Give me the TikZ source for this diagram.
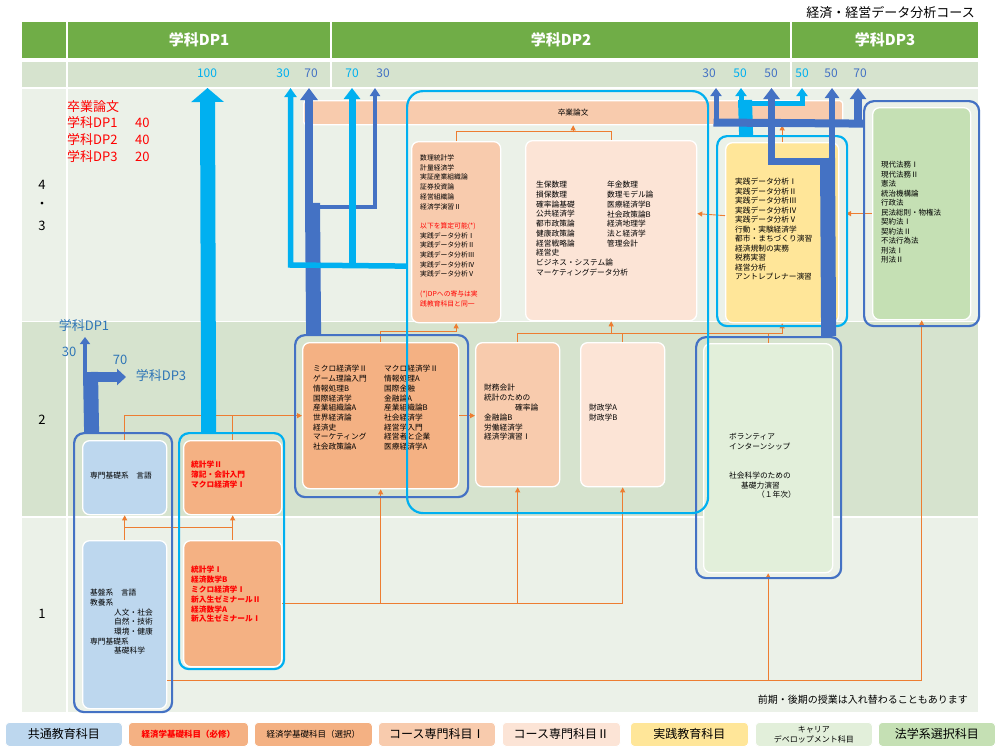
\documentclass[tikz,border=0pt]{standalone}
\usepackage{fontspec}
\setmainfont{Noto Sans CJK JP}
\usetikzlibrary{arrows.meta}
\definecolor{hdrgreen}{HTML}{70AD47}
\definecolor{bandg}{HTML}{D6E3CE}
\definecolor{lightbg}{HTML}{EBF1E8}
\definecolor{blueD}{HTML}{4472C4}
\definecolor{cyanC}{HTML}{00B0F0}
\definecolor{orangeL}{HTML}{ED7D31}
\definecolor{kyotsu}{HTML}{BDD7EE}
\definecolor{kiso}{HTML}{F4B183}
\definecolor{senA}{HTML}{F8CBAD}
\definecolor{senB}{HTML}{FCE4D6}
\definecolor{jissen}{HTML}{FFE699}
\definecolor{career}{HTML}{E2EFDA}
\definecolor{lawc}{HTML}{C5E0B4}
\definecolor{redT}{HTML}{FF0000}
\definecolor{lblue}{HTML}{2E75B6}
\newcommand\mkbox[6]{\node[#1,minimum width={#4-#2},minimum height={#5-#3}] (#6) at (#2,#3) {};}
\begin{document}
\begin{tikzpicture}[x=1pt,y=-1pt,
  inbox/.style={draw=white,line width=1.3pt,rounded corners=7pt,inner sep=0pt,anchor=north west},
  grpD/.style={draw=blueD,line width=2.2pt,rounded corners=10pt,inner sep=0pt,anchor=north west},
  grpC/.style={draw=cyanC,line width=2.2pt,rounded corners=10pt,inner sep=0pt,anchor=north west},
  ctext/.style={font=\fontsize{7.7}{9.7}\selectfont,align=left,anchor=north west,inner sep=0pt},
  stext/.style={font=\fontsize{7.7}{9.7}\selectfont,anchor=west,inner sep=0pt},
  oline/.style={draw=orangeL,line width=0.9pt},
  oarr/.style={oline,-{Triangle[width=5pt,length=5pt]}},
  dpnum/.style={font=\fontsize{12}{13}\selectfont,inner sep=0pt},
  hdr/.style={font=\fontsize{15}{16}\selectfont\bfseries,text=white,inner sep=0pt},
  legbox/.style={draw=white,line width=0.8pt,rounded corners=4pt,inner sep=0pt,anchor=north west},
  legt/.style={font=\fontsize{12}{13}\selectfont,inner sep=0pt,align=center},
  legs/.style={font=\fontsize{8.5}{10}\selectfont,inner sep=0pt,align=center},
  redt/.style={font=\fontsize{13}{14}\selectfont,text=redT,anchor=west,inner sep=0pt},
  rowl/.style={font=\fontsize{13}{14}\selectfont,inner sep=0pt},
  lbl/.style={font=\fontsize{13}{14}\selectfont,text=lblue,inner sep=0pt},
]
\useasboundingbox (0,0) rectangle (1000,750);
\fill[white] (0,0) rectangle (1000,750);
% backgrounds
\fill[hdrgreen] (22,22) rectangle (978,58);
\fill[bandg] (22,62) rectangle (978,88);
\fill[lightbg] (22,88) rectangle (978,712);
\fill[bandg] (22,322) rectangle (978,517);
\draw[white,line width=1.2pt] (22,88)--(978,88) (22,321.5)--(978,321.5) (22,517)--(978,517);
\draw[white,line width=1.5pt] (67,22)--(67,712) (331,22)--(331,88) (791,22)--(791,88);
% title and header
\node[font=\fontsize{13}{14}\selectfont,anchor=east,inner sep=0pt] (title) at (975,13) {経済・経営データ分析コース};
\node[hdr] (h1) at (199,40) {学科DP1};
\node[hdr] (h2) at (561,40) {学科DP2};
\node[hdr] (h3) at (885,40) {学科DP3};
% row labels
\node[rowl] (r4) at (42,185) {4};
\node[rowl] (rd) at (42,205) {・};
\node[rowl] (r3) at (42,226) {3};
\node[rowl] (r2) at (42,420) {2};
\node[rowl] (r1) at (42,614) {1};
% red thesis text
\node[redt] (s0) at (67,107) {卒業論文};
\node[redt] (s1) at (67,123) {学科DP1};
\node[redt] (s2) at (67,140) {学科DP2};
\node[redt] (s3) at (67,157) {学科DP3};
\node[redt] (n1) at (135,123) {40};
\node[redt] (n2) at (135,140) {40};
\node[redt] (n3) at (135,157) {20};
% boxes
\mkbox{inbox,fill=senA,rounded corners=3pt}{303}{100}{842}{124}{sotsu}
\mkbox{inbox,fill=kyotsu}{82}{440}{166}{514}{k1a}
\mkbox{inbox,fill=kyotsu}{82}{540}{166}{708}{k1b}
\mkbox{inbox,fill=kiso}{183}{440}{281}{514}{k2a}
\mkbox{inbox,fill=kiso}{183}{540}{281}{666}{k2b}
\mkbox{inbox,fill=kiso}{302}{342}{458}{488}{c1}
\mkbox{inbox,fill=senA}{475}{342}{559}{486}{zai}
\mkbox{inbox,fill=senB}{580}{342}{664}{486}{zs}
\mkbox{inbox,fill=senA}{411}{141}{500}{322}{suri}
\mkbox{inbox,fill=senB}{525}{140}{696}{320}{seiho}
\mkbox{inbox,fill=jissen}{725}{142}{838}{322}{jis}
\mkbox{inbox,fill=lawc}{872}{107}{970}{319}{law}
\mkbox{inbox,fill=career}{703}{343}{832}{572}{car}
% orange connectors
\draw[oarr] (k1b.north) -- (k1a.south);
\draw[oarr] (k2b.north) -- (k2a.south);
\draw[oline] ([yshift=13pt]k1b.north) -- ([yshift=13pt]k2b.north);
\draw[oarr] (k1a.north) |- (c1.west);
\draw[oline] (k2a.north) -- (k2a.north |- c1.west);
\draw[oarr] (c1.east) -- (c1.east -| zai.west);
\draw[oline] (k2b.east) -- (k2b.east -| zs.south);
\draw[oarr] (c1.south |- k2b.east) -- (c1.south);
\draw[oarr] (zai.south |- k2b.east) -- (zai.south);
\draw[oarr] (zs.south |- k2b.east) -- (zs.south);
\draw[oline] ([yshift=-56pt]k1b.east) -- ([yshift=-56pt]k1b.east -| law.south);
\draw[oarr] ([yshift=-56pt]k1b.east -| car.south) -- (car.south);
\draw[oarr] ([yshift=-56pt]k1b.east -| law.south) -- (law.south);
\draw[oarr] (c1.north) -- ([yshift=11pt]c1.north) -| (suri.south);
\draw[oarr] (zai.north) -- ([yshift=9pt]zai.north) -| (jis.south);
\draw[oline] (zs.north) -- ([yshift=9pt]zs.north);
\draw[oarr] ([yshift=-13pt]seiho.south) -- (seiho.south);
\draw[oline] (car.north) -- ([yshift=10pt]car.north);
\draw[oline] (suri.north) -- ([yshift=10pt]suri.north) -| (seiho.north);
\draw[oarr] ([yshift=-7pt]sotsu.south) -- (sotsu.south);
\draw[oarr] (jis.north) -- (jis.north |- sotsu.south);
\draw[oarr] (law.west) -- ([xshift=-26pt]law.west);
\draw[oarr] ([yshift=17pt]jis.west) -- ([yshift=17pt]seiho.east);
% group outlines
\mkbox{grpD}{73}{432}{171}{711}{g1}
\mkbox{grpC}{178}{432}{283}{668}{g2}
\mkbox{grpD}{294}{334}{467}{496}{gc}
\mkbox{grpC}{716}{135}{846}{325}{gj}
\mkbox{grpD}{863}{100}{978}{325}{gl}
\mkbox{grpD}{695}{336}{840}{577}{gk}
% box texts
\node[font=\fontsize{7.7}{9}\selectfont,inner sep=0pt] (tsotsu) at (sotsu.center) {卒業論文};
\node[stext] (t1a) at (90,476) {専門基礎系　言語};
\node[ctext] (t1b) at (90,589) {基盤系　言語\\教養系\\\hspace*{24pt}人文・社会\\\hspace*{24pt}自然・技術\\\hspace*{24pt}環境・健康\\専門基礎系\\\hspace*{24pt}基礎科学};
\node[ctext,text=redT,font=\fontsize{7.7}{10}\selectfont\bfseries] (t2a) at (191,461) {統計学Ⅱ\\簿記・会計入門\\マクロ経済学Ⅰ};
\node[ctext,text=redT,font=\fontsize{7.7}{9.8}\selectfont\bfseries] (t2b) at (191,566) {統計学Ⅰ\\経済数学B\\ミクロ経済学Ⅰ\\新入生ゼミナールⅡ\\経済数学A\\新入生ゼミナールⅠ};
\node[ctext] (tc1) at (313,365.2) {ミクロ経済学Ⅱ\\ゲーム理論入門\\情報処理B\\国際経済学\\産業組織論A\\世界経済論\\経済史\\マーケティング\\社会政策論A};
\node[ctext] (tc2) at (384,365.2) {マクロ経済学Ⅱ\\情報処理A\\国際金融\\金融論A\\産業組織論B\\社会経済学\\経営学入門\\経営者と企業\\医療経済学A};
\node[ctext,font=\fontsize{6.8}{9.7}\selectfont] (tsuri) at (420,154.6) {数理統計学\\計量経済学\\実証産業組織論\\証券投資論\\経営組織論\\経済学演習Ⅱ\\\mbox{}\\{\color{redT}以下を算定可能(*)}\\実践データ分析Ⅰ\\実践データ分析Ⅱ\\実践データ分析Ⅲ\\実践データ分析Ⅳ\\実践データ分析Ⅴ\\\mbox{}\\{\color{redT}(*)DPへの寄与は実}\\{\color{redT}践教育科目と同一}};
\node[ctext] (ts1) at (536,181.2) {生保数理\\損保数理\\確率論基礎\\公共経済学\\都市政策論\\健康政策論\\経営戦略論\\経営史\\ビジネス・システム論\\マーケティングデータ分析};
\node[ctext] (ts2) at (607,181.2) {年金数理\\数理モデル論\\医療経済学B\\社会政策論B\\経済地理学\\法と経済学\\管理会計};
\node[ctext,font=\fontsize{7.7}{9.5}\selectfont] (tjis) at (735,178.2) {実践データ分析Ⅰ\\実践データ分析Ⅱ\\実践データ分析Ⅲ\\実践データ分析Ⅳ\\実践データ分析Ⅴ\\行動・実験経済学\\都市・まちづくり演習\\経済規制の実務\\税務実習\\経営分析\\アントレプレナー演習};
\node[ctext,font=\fontsize{7.5}{9.5}\selectfont] (tlaw) at (881,161.2) {現代法務Ⅰ\\現代法務Ⅱ\\憲法\\統治機構論\\行政法\\民法総則・物権法\\契約法Ⅰ\\契約法Ⅱ\\不法行為法\\刑法Ⅰ\\刑法Ⅱ};
\node[stext] (tk1) at (729,437) {ボランティア};
\node[stext] (tk2) at (729,447) {インターンシップ};
\node[stext] (tk3) at (729,476) {社会科学のための};
\node[stext] (tk4) at (741,486) {基礎力演習};
\node[stext] (tk5) at (757,495) {（１年次）};
\node[ctext,font=\fontsize{7.7}{9.8}\selectfont] (tzai) at (484,384.2) {財務会計\\統計のための\\\hspace*{31pt}確率論\\金融論B\\労働経済学\\経済学演習Ⅰ};
\node[ctext] (tzs) at (589,404.2) {財政学A\\財政学B};
% big DP2 group
\mkbox{grpC,rounded corners=16pt}{406}{90}{707}{512}{gb}
% DP target points
\coordinate (dA) at (207.5,88);
\coordinate (dB) at (290.5,88);
\coordinate (dC) at (309,88);
\coordinate (dD) at (352,88);
\coordinate (dE) at (375,88);
\coordinate (dF) at (716,88);
\coordinate (dG) at (741,88);
\coordinate (dH) at (771.5,88);
\coordinate (dI) at (802,88);
\coordinate (dJ) at (832,88);
\coordinate (dK) at (858,88);
\coordinate (dL1) at (85,337);
\coordinate (dL3) at (126,377);
% blue arrows left
\draw[cyanC,line width=15pt,-{Triangle[width=32pt,length=14pt]}] ([xshift=-23pt]g2.north) -- (dA);
\draw[blueD,line width=15pt] ([xshift=-31.5pt]g1.north) -- (90.5,372);
\draw[blueD,line width=4pt,-{Triangle[width=10pt,length=7pt]}] (85,374) -- (dL1);
\draw[blueD,line width=10pt,-{Triangle[width=16pt,length=9pt]}] (88,377) -- (dL3);
\draw[blueD,line width=15pt] ([xshift=-68pt]gc.north) -- (312.5,203);
\draw[blueD,line width=8pt,-{Triangle[width=17pt,length=12pt]}] (309,206) -- (dC);
\draw[blueD,line width=4pt,line join=miter,-{Triangle[width=10pt,length=8pt]}] (318,207) -- (375,207) -- (dE);
\draw[cyanC,line width=5.5pt,line join=miter,-{Triangle[width=12pt,length=9pt]}] ([yshift=36pt]gb.west) -- (290.5,265) -- (dB);
\draw[cyanC,line width=7pt,-{Triangle[width=16pt,length=11pt]}] (352,268) -- (dD);
% blue arrows right
\draw[cyanC,line width=14pt] ([xshift=-36pt]gj.north) -- (745,100);
\draw[cyanC,line width=5pt,-{Triangle[width=11pt,length=8pt]}] (741,104) -- (dG);
\draw[cyanC,line width=5pt,line join=miter,-{Triangle[width=11pt,length=8pt]}] (745,103) -- (802,103) -- (dI);
\draw[blueD,line width=8pt] ([yshift=90pt]gl.west) -- (713.5,122.5);
\draw[blueD,line width=5pt,-{Triangle[width=11pt,length=8pt]}] (716,126) -- (dF);
\draw[blueD,line width=8pt,-{Triangle[width=16pt,length=11pt]}] (858,126) -- (dK);
\draw[blueD,line width=15pt] ([xshift=60pt]gk.north) -- (827.5,158);
\draw[blueD,line width=7pt,line join=miter,-{Triangle[width=16pt,length=11pt]}] (835,161.5) -- (771.5,161.5) -- (dH);
\draw[blueD,line width=6pt,-{Triangle[width=14pt,length=10pt]}] (832,160) -- (dJ);
% DP numbers
\node[dpnum,text=cyanC] (p1) at (207,73) {100};
\node[dpnum,text=cyanC] (p2) at (283,73) {30};
\node[dpnum,text=blueD] (p3) at (311,73) {70};
\node[dpnum,text=cyanC] (p4) at (352,73) {70};
\node[dpnum,text=blueD] (p5) at (383,73) {30};
\node[dpnum,text=blueD] (p6) at (709,73) {30};
\node[dpnum,text=cyanC] (p7) at (740,73) {50};
\node[dpnum,text=blueD] (p8) at (771,73) {50};
\node[dpnum,text=cyanC] (p9) at (802,73) {50};
\node[dpnum,text=blueD] (p10) at (831,73) {50};
\node[dpnum,text=blueD] (p11) at (860,73) {70};
% left DP labels
\node[lbl] (l1) at (84,326) {学科DP1};
\node[lbl] (l2) at (69,352) {30};
\node[lbl] (l3) at (120,360) {70};
\node[lbl] (l4) at (161,376) {学科DP3};
% note
\node[font=\fontsize{10}{11}\selectfont,anchor=east,inner sep=0pt] (note) at (968,700) {前期・後期の授業は入れ替わることもあります};
% legend
\mkbox{legbox,fill=kyotsu}{5}{722}{122}{746}{L1}
\mkbox{legbox,fill=kiso}{128}{722}{248}{746}{L2}
\mkbox{legbox,fill=kiso}{254}{722}{372}{746}{L3}
\mkbox{legbox,fill=senA}{378}{722}{495}{746}{L4}
\mkbox{legbox,fill=senB}{502}{722}{620}{746}{L5}
\mkbox{legbox,fill=jissen}{630}{722}{748}{746}{L6}
\mkbox{legbox,fill=career}{755}{722}{872}{746}{L7}
\mkbox{legbox,fill=lawc}{878}{722}{995}{746}{L8}
\node[legt] at (L1.center) {共通教育科目};
\node[legs,text=redT,font=\fontsize{8.5}{10}\selectfont\bfseries] at (L2.center) {経済学基礎科目（必修）};
\node[legs] at (L3.center) {経済学基礎科目（選択）};
\node[legt] at (L4.center) {コース専門科目Ⅰ};
\node[legt] at (L5.center) {コース専門科目Ⅱ};
\node[legt] at (L6.center) {実践教育科目};
\node[legs,font=\fontsize{8}{10}\selectfont] at (L7.center) {キャリア\\デベロップメント科目};
\node[legt] at (L8.center) {法学系選択科目};
\end{tikzpicture}
\end{document}
